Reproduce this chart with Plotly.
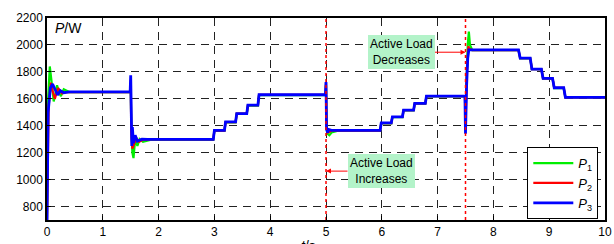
import plotly.graph_objects as go

# ---------------- data ----------------
t_p1 = [0, 0.0, 0.02, 0.05, 0.09, 0.12, 0.15, 0.18, 0.22, 0.25, 0.3, 0.4,
        1.49, 1.5, 1.51, 1.53, 1.55, 1.58, 1.62, 1.66, 1.72, 1.85,
        2.98, 3.0, 3.18, 3.2, 3.38, 3.4, 3.58, 3.6, 3.78, 3.8,
        4.99, 5.0, 5.01, 5.03, 5.06, 5.1, 5.2,
        5.97, 5.99, 6.17, 6.19, 6.37, 6.39, 6.57, 6.59, 6.78, 6.8,
        7.49, 7.5, 7.52, 7.54, 7.56, 7.58, 7.62,
        8.45, 8.48, 8.66, 8.69, 8.86, 8.89, 9.06, 9.09, 9.26, 9.29, 10]
p1 = [0, 700, 1600, 1840, 1700, 1580, 1640, 1700, 1640, 1620, 1670, 1650,
      1650, 1700, 1400, 1200, 1160, 1300, 1250, 1300, 1280, 1295,
      1295, 1362, 1362, 1425, 1425, 1488, 1488, 1550, 1550, 1628,
      1628, 1700, 1400, 1340, 1330, 1350, 1362,
      1362, 1418, 1418, 1464, 1464, 1514, 1514, 1564, 1564, 1618,
      1618, 1500, 1800, 2000, 2100, 2000, 1962,
      1962, 1900, 1900, 1820, 1820, 1750, 1750, 1680, 1680, 1610, 1610]

t_p2 = [0, 0.0, 0.03, 0.07, 0.1, 0.14, 0.2, 0.27, 0.35,
        1.49, 1.5, 1.51, 1.53, 1.56, 1.6, 1.65, 1.72, 1.85,
        2.98, 3.0, 3.18, 3.2, 3.38, 3.4, 3.58, 3.6, 3.78, 3.8,
        4.99, 5.0, 5.01, 5.03, 5.06, 5.12,
        5.97, 5.99, 6.17, 6.19, 6.37, 6.39, 6.57, 6.59, 6.78, 6.8,
        7.49, 7.5, 7.52, 7.55, 7.57, 7.62,
        8.45, 8.48, 8.66, 8.69, 8.86, 8.89, 9.06, 9.09, 9.26, 9.29, 10]
p2 = [0, 700, 1550, 1720, 1660, 1600, 1680, 1640, 1650,
      1650, 1740, 1350, 1230, 1260, 1310, 1280, 1295, 1298,
      1298, 1364, 1364, 1427, 1427, 1490, 1490, 1552, 1552, 1629,
      1629, 1715, 1380, 1350, 1355, 1364,
      1364, 1420, 1420, 1465, 1465, 1515, 1515, 1565, 1565, 1619,
      1619, 1380, 1750, 1990, 1970, 1962,
      1962, 1901, 1901, 1820, 1820, 1751, 1751, 1681, 1681, 1610, 1610]

t_p3 = [0, 0.0, 0.02, 0.06, 0.1, 0.15, 0.19, 0.24, 0.3, 0.4,
        1.49, 1.5, 1.51, 1.52, 1.53, 1.55, 1.58, 1.62, 1.7, 1.8,
        2.98, 3.0, 3.18, 3.2, 3.38, 3.4, 3.58, 3.6, 3.78, 3.8,
        4.99, 5.0, 5.01, 5.03, 5.05, 5.1,
        5.97, 5.99, 6.17, 6.19, 6.37, 6.39, 6.57, 6.59, 6.78, 6.8,
        7.49, 7.5, 7.52, 7.54, 7.56, 7.6,
        8.45, 8.48, 8.66, 8.69, 8.86, 8.89, 9.06, 9.09, 9.26, 9.29, 10]
p3 = [0, 700, 1500, 1680, 1710, 1660, 1628, 1660, 1645, 1652,
      1652, 1775, 1300, 1250, 1390, 1270, 1330, 1285, 1300, 1298,
      1298, 1365, 1365, 1428, 1428, 1490, 1490, 1553, 1553, 1630,
      1630, 1725, 1372, 1350, 1372, 1366,
      1366, 1421, 1421, 1466, 1466, 1516, 1516, 1566, 1566, 1620,
      1620, 1340, 1700, 1900, 1963, 1963,
      1963, 1902, 1902, 1820, 1820, 1752, 1752, 1682, 1682, 1611, 1611]

series_names = ["<i>P</i><sub>1</sub>", "<i>P</i><sub>2</sub>", "<i>P</i><sub>3</sub>"]
series_colors = ["#00ee00", "#ff0000", "#0000ff"]
series_widths = [2.2, 2.2, 2.8]

event_times = [5.0, 7.5]
event_labels = ["Active Load<br>Increases", "Active Load<br>Decreases"]
event_arrow_y = [1063, 1946]

x_ticks = [0, 1, 2, 3, 4, 5, 6, 7, 8, 9, 10]
y_ticks = [800, 1000, 1200, 1400, 1600, 1800, 2000, 2200]

# ---------------- figure ----------------
fig = go.Figure()
for t, p, name, col, w in zip([t_p1, t_p2, t_p3], [p1, p2, p3],
                              series_names, series_colors, series_widths):
    fig.add_trace(go.Scatter(x=t, y=p, mode="lines", name=name,
                             line=dict(color=col, width=w)))

for et in event_times:
    fig.add_trace(go.Scatter(x=[et, et], y=[700, 2200], mode="lines",
                             showlegend=False, hoverinfo="skip",
                             line=dict(color="#ff0000", width=1.5, dash="dot")))

axis_common = dict(showline=True, linecolor="black", linewidth=1.5, mirror=True,
                   ticks="inside", ticklen=4, tickcolor="black",
                   showgrid=True, gridcolor="#222222", gridwidth=1,
                   griddash="8px,6px", zeroline=False, ticklabeloverflow="allow",
                   tickfont=dict(family="Liberation Sans, Arial", size=12, color="black"))

fig.update_xaxes(range=[0, 10], tickvals=x_ticks, **axis_common)
fig.update_yaxes(range=[700, 2200], tickvals=y_ticks, **axis_common)

annotations = []
offsets = [55, -64]
for et, lab, ay_v, off in zip(event_times, event_labels, event_arrow_y, offsets):
    annotations.append(dict(x=et, y=ay_v, xref="x", yref="y", text=lab,
                            showarrow=True, arrowhead=2, arrowsize=1, arrowwidth=1,
                            arrowcolor="#ff0000", ax=off, ay=0,
                            bgcolor="#b3f3c9", borderpad=2, borderwidth=0,
                            font=dict(family="Liberation Sans, Arial", size=12, color="black")))
annotations.append(dict(x=0.011, y=0.95, xref="paper", yref="paper", xanchor="left",
                        yanchor="middle", text="<i>P</i>/W", showarrow=False,
                        font=dict(family="Liberation Sans, Arial", size=14, color="black")))
annotations.append(dict(x=0.469, y=-0.078, xref="paper", yref="paper", xanchor="center",
                        yanchor="top", text="<i>t</i>/s", showarrow=False,
                        font=dict(family="Liberation Sans, Arial", size=14, color="black")))

fig.update_layout(
    width=614, height=244,
    margin=dict(l=47, r=2, t=18, b=24, pad=0),
    paper_bgcolor="white", plot_bgcolor="white",
    showlegend=True,
    legend=dict(x=0.988, y=0.361, xanchor="right", yanchor="top",
                bgcolor="white", bordercolor="black", borderwidth=1,
                font=dict(family="Liberation Sans, Arial", size=13, color="black"),
                tracegroupgap=0, itemwidth=40),
    annotations=annotations,
)

fig.write_html("out.html", config={"displayModeBar": False},
               post_script="document.body.style.margin='0px';document.body.style.overflow='hidden';")
